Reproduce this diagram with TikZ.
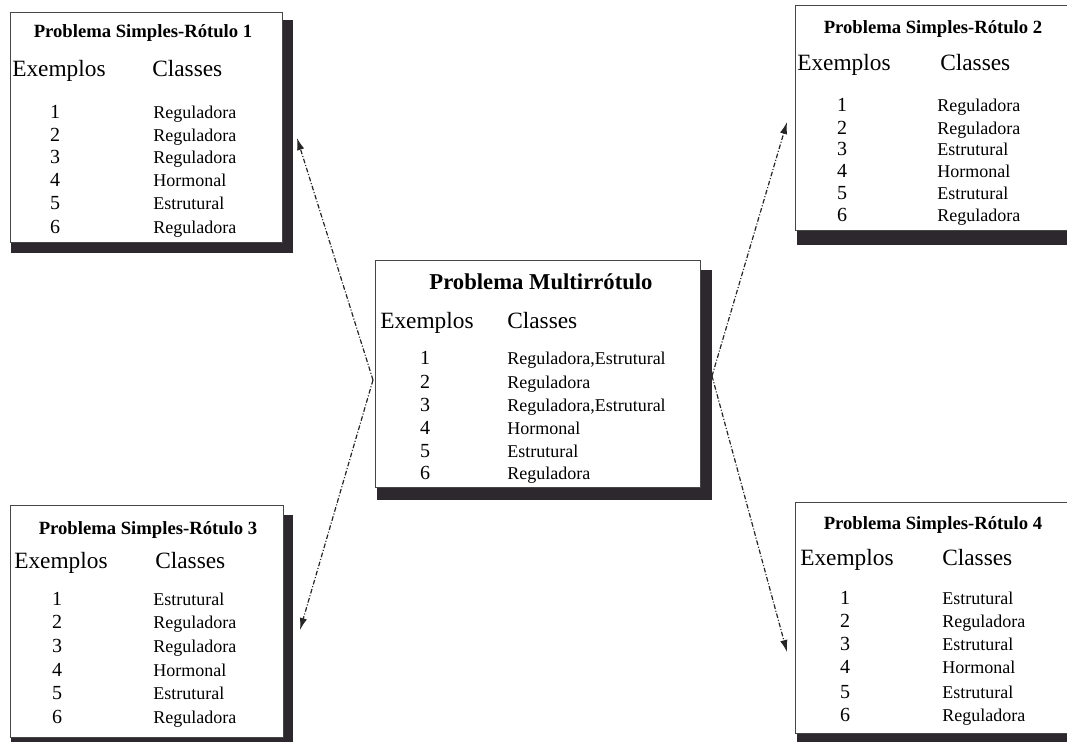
\documentclass[tikz,border=0pt]{standalone}
\usepackage{fontspec}
\setmainfont{Liberation Serif}
\usetikzlibrary{arrows.meta}

\definecolor{shade}{RGB}{44,40,46}
\definecolor{rim}{RGB}{70,70,70}

\tikzset{
  shadowbar/.style={fill=shade, draw=none},
  panel/.style={fill=white, draw=rim, line width=0.6pt},
  ttl/.style={anchor=base, inner sep=0pt, font=\fontsize{14}{14}\selectfont\bfseries},
  bigttl/.style={anchor=base, inner sep=0pt, font=\fontsize{17}{17}\selectfont\bfseries},
  head/.style={anchor=base west, inner sep=0pt, font=\fontsize{17.5}{17.5}\selectfont},
  num/.style={anchor=base, inner sep=0pt, font=\fontsize{15}{15}\selectfont},
  cls/.style={anchor=base west, inner sep=0pt, font=\fontsize{13.5}{13.5}\selectfont},
  link/.style={draw=black!85, line width=0.9pt,
    dash pattern=on 3.5pt off 1.4pt on 0.8pt off 1.4pt,
    -{Latex[length=9pt,width=5.5pt]}},
}

% rows of a table: #1 prefix, #2 number column x, #3 class column x, #4 class/y list
\newcommand\tablerows[4]{%
  \foreach \cl/\yy [count=\k] in {#4} {
    \node[num] (#1-n\k) at (#2,\yy+6) {\k};
    \node[cls] (#1-c\k) at (#3,\yy+6) {\cl};
  }%
}

\begin{document}
\begin{tikzpicture}[x=0.75pt,y=-0.75pt]
\useasboundingbox (0,0) rectangle (1067,742);

% ---- shadows and panels ----
\fill[shadowbar] (11,20) rectangle (293,253);
\draw[panel] (10,12) rectangle (282,242);

\fill[shadowbar] (797,15) rectangle (1095,245);
\draw[panel] (795,5) rectangle (1085,230);

\fill[shadowbar] (11,515) rectangle (293,752);
\draw[panel] (10,505) rectangle (283,737);

\fill[shadowbar] (797,512) rectangle (1095,750);
\draw[panel] (795,502) rectangle (1085,733);

\fill[shadowbar] (377,270) rectangle (712,500);
\draw[panel] (375,260) rectangle (700,487);

% ---- Problema Simples-Rótulo 1 ----
\node[ttl] (p1-t) at (143,38) {Problema Simples-Rótulo 1};
\node[head] (p1-e) at (12,77) {Exemplos};
\node[head] (p1-k) at (152,77) {Classes};
\tablerows{p1}{55}{153}{Reguladora/112, Reguladora/135, Reguladora/157, Hormonal/180, Estrutural/203, Reguladora/227}

% ---- Problema Simples-Rótulo 2 ----
\node[ttl] (p2-t) at (933,34) {Problema Simples-Rótulo 2};
\node[head] (p2-e) at (797,71) {Exemplos};
\node[head] (p2-k) at (940,71) {Classes};
\tablerows{p2}{842}{937}{Reguladora/106, Reguladora/128, Estrutural/149, Hormonal/171, Estrutural/193, Reguladora/215}

% ---- Problema Simples-Rótulo 3 ----
\node[ttl] (p3-t) at (148,534) {Problema Simples-Rótulo 3};
\node[head] (p3-e) at (14,568) {Exemplos};
\node[head] (p3-k) at (155,568) {Classes};
\tablerows{p3}{57}{153}{Estrutural/599, Reguladora/622, Reguladora/646, Hormonal/670, Estrutural/693, Reguladora/717}

% ---- Problema Simples-Rótulo 4 ----
\node[ttl] (p4-t) at (933,529) {Problema Simples-Rótulo 4};
\node[head] (p4-e) at (800,565) {Exemplos};
\node[head] (p4-k) at (942,565) {Classes};
\tablerows{p4}{845}{942}{Estrutural/598, Reguladora/621, Estrutural/644, Hormonal/667, Estrutural/692, Reguladora/715}

% ---- Problema Multirrótulo ----
\node[bigttl] (pm-t) at (541,289) {Problema Multirrótulo};
\node[head] (pm-e) at (380,328) {Exemplos};
\node[head] (pm-k) at (507,328) {Classes};
\tablerows{pm}{425}{507}{{Reguladora,Estrutural}/358, Reguladora/382, {Reguladora,Estrutural}/405, Hormonal/428, Estrutural/451, Reguladora/473}

% ---- connectors ----
\coordinate (lv) at (373,380);
\coordinate (rv) at (712,376);
\coordinate (to1) at (297,138);
\coordinate (to2) at (787,122);
\coordinate (to3) at (300,630);
\coordinate (to4) at (787,652);

\draw[link] (lv) -- (to1);
\draw[link] (lv) -- (to3);
\draw[link] (rv) -- (to2);
\draw[link] (rv) -- (to4);
\end{tikzpicture}
\end{document}
